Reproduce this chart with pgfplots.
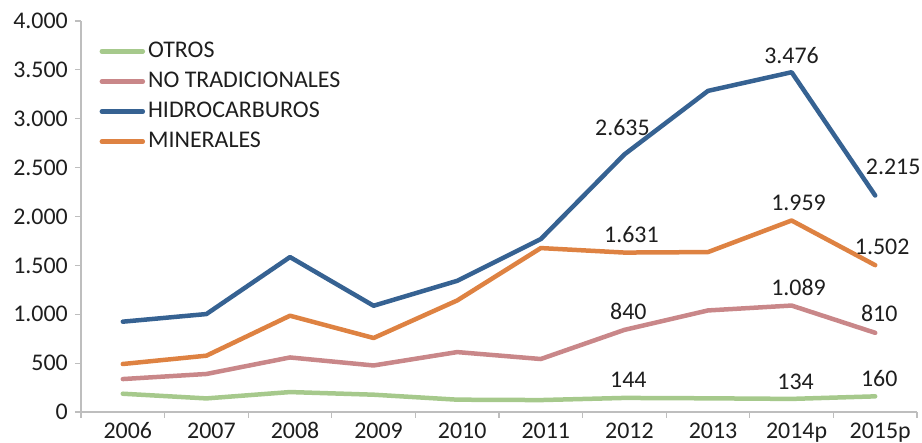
\documentclass[border=0pt]{standalone}
\usepackage{pgfplots}
\usepackage{pgfplotstable}
\pgfplotsset{compat=1.18}
\usepackage{fontspec}
\setmainfont{Carlito}
\definecolor{cblue}{RGB}{54,98,146}
\definecolor{corange}{RGB}{222,130,66}
\definecolor{cpink}{RGB}{201,135,137}
\definecolor{cgreen}{RGB}{166,201,140}
\definecolor{caxis}{RGB}{190,190,190}
\definecolor{ctext}{RGB}{30,30,30}

\pgfplotstableread{
x otros notrad hidro min
0 187 337 924 491
1 139 389 1002 576
2 204 558 1585 985
3 177 476 1087 757
4 126 613 1342 1141
5 122 542 1769 1677
6 144 840 2635 1631
7 140 1039 3285 1636
8 134 1089 3476 1959
9 160 810 2215 1502
}\datatable

\pgfplotstableread{
x y label dx dy
6 2635 2.635 -2 27
8 3476 3.476 0 17
9 2215 2.215 18 29
6 1631 1.631 7 18
8 1959 1.959 7 18
9 1502 1.502 7 18
6 840 840 4 18
8 1089 1.089 7 18
9 810 810 4 19
6 144 144 4 18
8 134 134 4 17
9 160 160 4 18
}\labeltable

\begin{document}
\fontsize{24}{28}\selectfont
\begin{tikzpicture}
\path[use as bounding box] (0,0) rectangle (922bp,443bp);
\begin{axis}[
  at={(81bp,31bp)}, anchor=south west,
  scale only axis,
  width=836bp, height=391bp,
  xmin=-0.5, xmax=9.5,
  ymin=0, ymax=4000,
  axis x line=bottom, axis y line=left,
  axis line style={caxis, line width=1.2bp, -},
  xtick={0,...,9},
  xticklabels={2006,2007,2008,2009,2010,2011,2012,2013,2014p,2015p},
  major x tick style={draw=none},
  minor xtick={-0.5,0.5,...,9.5},
  minor x tick style={caxis, line width=1.2bp},
  minor tick length=6bp,
  ytick={0,500,...,4000},
  yticklabels={0,500,1.000,1.500,2.000,2.500,3.000,3.500,4.000},
  y tick style={caxis, line width=1.2bp},
  major tick length=6bp,
  tick align=outside,
  ticklabel style={font=\fontsize{24}{28}\selectfont, text=ctext},
  xticklabel style={anchor=base, yshift=-20bp, xshift=5bp},
  yticklabel style={xshift=1bp},
  clip=false,
  legend style={at={(0.022,0.955)}, anchor=north west, draw=none, fill=none,
    font=\fontsize{24}{28}\selectfont, text=ctext,
    row sep=5bp, inner sep=0pt,
    nodes={inner sep=3bp}},
  legend cell align=left,
  legend image code/.code={\draw[#1, line cap=round] (0bp,0bp) -- (41bp,0bp);},
  every axis plot/.append style={line width=4.5bp, line join=round, line cap=round},
]
\addplot[cgreen] table[x=x, y=otros] {\datatable};
\addlegendentry{OTROS}
\addplot[cpink] table[x=x, y=notrad] {\datatable};
\addlegendentry{NO TRADICIONALES}
\addplot[cblue] table[x=x, y=hidro] {\datatable};
\addlegendentry{HIDROCARBUROS}
\addplot[corange] table[x=x, y=min] {\datatable};
\addlegendentry{MINERALES}

\addplot[draw=none, mark=none, forget plot,
  nodes near coords, point meta=explicit symbolic,
  visualization depends on={\thisrow{dx} \as \dx},
  visualization depends on={\thisrow{dy} \as \dy},
  every node near coord/.append style={anchor=center, xshift=\dx bp, yshift=\dy bp,
    font=\fontsize{24}{28}\selectfont, text=ctext, inner sep=0pt},
] table[x=x, y=y, meta=label] {\labeltable};
\end{axis}
\end{tikzpicture}
\end{document}
